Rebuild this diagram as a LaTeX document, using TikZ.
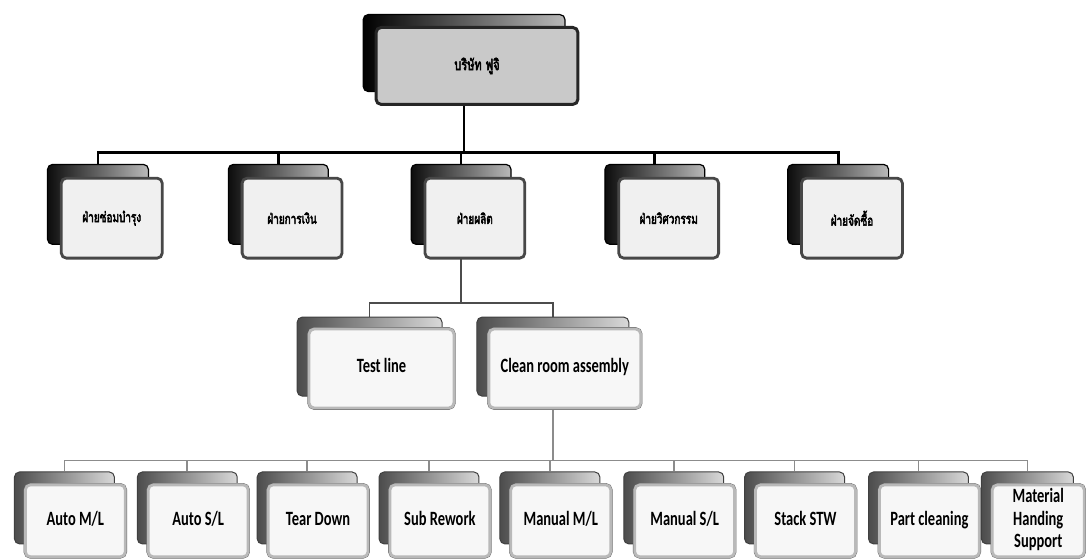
\documentclass[tikz,border=0pt]{standalone}
\usepackage{fontspec}
\usepackage{graphicx}
\setmainfont{Carlito}
\newfontfamily\thaifont[Script=Thai, FakeBold=4]{Loma}

\pgfdeclarelayer{bg}
\pgfsetlayers{bg,main}

% text helpers: tall, narrow lettering
\newcommand\lattxt[1]{\scalebox{1}[1.4]{\begin{tabular}{@{}c@{}}#1\end{tabular}}}
\newcommand\thtxt[1]{\scalebox{1}[1.4]{\thaifont #1}}

% offset of the rear card behind each front card
\newcommand\cdx{12}
\newcommand\cdy{12}

% a stacked card: rear card (name b) and front card (name)
\newcommand\orgcard[7]{%
  \node[#2back, minimum width=#5pt, minimum height=#6pt] (#1b) at ({#3-\cdx},{#4-\cdy}) {};
  \node[#2front, minimum width=#5pt, minimum height=#6pt] (#1) at (#3,#4) {#7};}

\tikzset{
  card/.style={rectangle, rounded corners=5pt, inner sep=0pt, anchor=north west},
  topback/.style={card, draw=black, line width=1.2pt, left color=black, right color=gray!55},
  topfront/.style={card, draw=black!85, line width=3pt, fill=gray!42,
    font=\fontsize{11}{13}\selectfont},
  midback/.style={card, draw=black, line width=1.2pt, left color=black!95, right color=gray!55},
  midfront/.style={card, draw=black!72, line width=2.8pt, fill=gray!12,
    font=\fontsize{10}{12}\selectfont},
  lowback/.style={card, draw=black!75, line width=1pt, left color=black!70, right color=gray!30},
  lowfront/.style={card, draw=gray!55, line width=2.8pt, fill=gray!6,
    preaction={draw=black!60, line width=3.6pt},
    font=\fontsize{14.5}{16}\selectfont\bfseries},
  conn/.style={draw=black, line width=2.8pt},
  connmid/.style={draw=black!70, line width=1.8pt},
  connlow/.style={draw=black!45, line width=1.6pt},
}

\begin{document}
\begin{tikzpicture}[x=1pt, y=-1pt]
\begin{pgfonlayer}{bg}
  \path[use as bounding box, fill=white] (0,0) rectangle (1086,559);
\end{pgfonlayer}

% company
\renewcommand\cdx{12}\renewcommand\cdy{12}
\orgcard{top}{top}{375}{26}{202}{77}{\thtxt{บริษัท ฟูจิ}}

% departments
\renewcommand\cdx{13}\renewcommand\cdy{13}
\orgcard{d1}{mid}{60}{177}{101}{80}{\thtxt{ฝ่ายซ่อมบำรุง}}
\orgcard{d2}{mid}{241}{177}{100}{80}{\thtxt{ฝ่ายการเงิน}}
\orgcard{d3}{mid}{424}{177}{100}{80}{\thtxt{ฝ่ายผลิต}}
\orgcard{d4}{mid}{618}{177}{100}{80}{\thtxt{ฝ่ายวิศวกรรม}}
\orgcard{d5}{mid}{801}{177}{101}{80}{\thtxt{ฝ่ายจัดซื้อ}}

% production sections
\renewcommand\cdx{11}\renewcommand\cdy{11}
\orgcard{s1}{low}{308}{328}{145}{79}{\lattxt{Test line}}
\orgcard{s2}{low}{488}{328}{152}{79}{\lattxt{Clean room assembly}}

% clean room lines
\renewcommand\cdx{10}\renewcommand\cdy{12}
\orgcard{c1}{low}{24}{484}{100}{72}{\lattxt{Auto M/L}}
\orgcard{c2}{low}{147}{484}{100}{72}{\lattxt{Auto S/L}}
\orgcard{c3}{low}{267}{484}{100}{72}{\lattxt{Tear Down}}
\orgcard{c4}{low}{389}{484}{100}{72}{\lattxt{Sub Rework}}
\orgcard{c5}{low}{510}{484}{100}{72}{\lattxt{Manual M/L}}
\orgcard{c6}{low}{634}{484}{100}{72}{\lattxt{Manual S/L}}
\orgcard{c7}{low}{755}{484}{100}{72}{\lattxt{Stack STW}}
\orgcard{c8}{low}{879}{484}{100}{72}{\lattxt{Part cleaning}}
\orgcard{c9}{low}{992}{484}{92}{72}{\lattxt{Material\\Handing\\Support}}

% connectors, kept behind the cards
\coordinate (bus1) at (0,153);
\coordinate (bus2) at (0,303);
\coordinate (bus3) at (0,461);
\begin{pgfonlayer}{bg}
  \foreach \d in {d1,d2,d3,d4,d5}
    \draw[conn] (topb.center) |- (bus1 -| \d b.north) -- (\d b.north);
  \foreach \s in {s1,s2}
    \draw[connmid] (d3b.center) |- (bus2 -| \s b.north) -- (\s b.north);
  \foreach \c in {c1,c2,c3,c4,c5,c6,c7,c8,c9}
    \draw[connlow] (s2b.center) |- (bus3 -| \c b.north) -- (\c b.north);
\end{pgfonlayer}
\end{tikzpicture}
\end{document}
